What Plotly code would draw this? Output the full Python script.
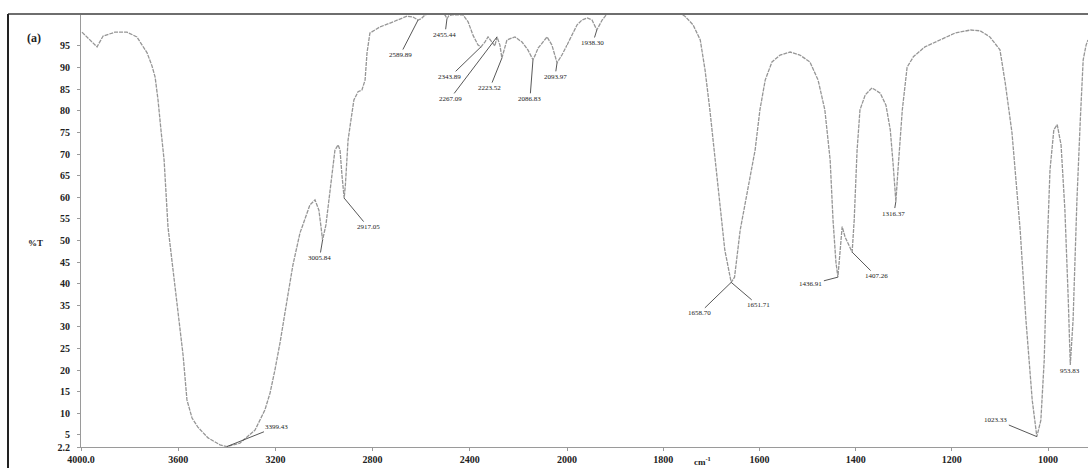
import plotly.graph_objects as go

# FTIR transmittance spectrum, two wavenumber scales (4000-2000 and 2000-917 cm-1)
wn_hi = [3996, 3971, 3934, 3909, 3860, 3811, 3770, 3728, 3708, 3695, 3683, 3671, 3658,
         3642, 3621, 3601, 3580, 3564, 3543, 3519, 3477, 3428, 3399.43, 3346, 3284,
         3243, 3222, 3202, 3181, 3152, 3128, 3099, 3078, 3058, 3037, 3021, 3012,
         3005.84, 2992, 2971, 2955, 2942, 2934, 2926, 2917.05, 2912, 2901, 2889, 2877,
         2860, 2844, 2831, 2823, 2811, 2770, 2728, 2700, 2658, 2634, 2613, 2600, 2584,
         2543, 2502, 2494, 2486, 2473, 2428, 2407, 2387, 2366, 2354, 2338, 2325, 2309,
         2297, 2288, 2276, 2268, 2258, 2247, 2214, 2185, 2161, 2140, 2130, 2119, 2082,
         2062, 2041, 2021, 2000]
t_hi = [98.2, 96.9, 94.8, 97.3, 98.2, 98.2, 97.1, 93.4, 90.4, 87.8, 82.5, 75.6, 68.6,
        53.1, 43.2, 33.2, 23.5, 13.1, 8.9, 6.8, 4.3, 2.7, 2.3, 3.1, 6.1,
        10.8, 14.7, 20.0, 26.3, 36.2, 44.3, 51.7, 55.2, 58.2, 59.4, 57.0, 53.0,
        50.1, 53.6, 64.0, 70.9, 72.1, 70.9, 65.1, 59.8, 62.8, 73.2, 77.9, 82.5,
        84.4, 84.8, 87.1, 93.4, 98.0, 99.4, 100.3, 101.0, 101.9, 101.7, 101.0, 101.3, 102.2,
        103.0, 102.2, 101.3, 102.0, 102.2, 102.2, 100.6, 97.5, 95.2, 94.8, 95.9, 97.1, 95.9,
        95.0, 97.1, 95.2, 92.2, 94.5, 96.4, 97.1, 95.9, 94.1, 91.8, 93.0, 94.5, 97.1,
        95.2, 91.1, 92.9, 95.2]

wn_lo = [2000, 1990, 1979, 1969, 1958, 1948, 1938, 1927, 1917, 1890, 1848, 1807, 1775,
         1755, 1738, 1723, 1713, 1703, 1692, 1682, 1672, 1658.7, 1651.71, 1640, 1624,
         1609, 1599, 1588, 1574, 1557, 1536, 1516, 1495, 1478, 1464, 1453, 1447,
         1441, 1436.91, 1433, 1428, 1422, 1414, 1407.26, 1403, 1397, 1391, 1380, 1366,
         1349, 1337, 1328, 1322, 1316.37, 1312, 1303, 1293, 1280, 1256, 1224, 1193,
         1161, 1141, 1121, 1100, 1089, 1075, 1058, 1046, 1033, 1025, 1023.33, 1015,
         1008, 1002, 996, 988, 981, 973, 965, 958, 953.83, 948, 940, 933, 927, 921, 917]
t_lo = [95.2, 97.5, 99.9, 101.0, 101.5, 101.0, 98.7, 101.0, 102.4, 104.0, 104.5, 104.3, 103.3,
        101.9, 99.9, 96.4, 89.4, 80.2, 68.6, 57.0, 47.8, 40.3, 41.5, 52.4, 61.7,
        70.9, 80.2, 87.1, 91.3, 92.9, 93.6, 92.9, 91.3, 87.1, 80.2, 68.6, 54.7,
        45.0, 41.5, 47.0, 53.2, 50.8, 48.9, 47.3, 54.7, 70.9, 80.2, 83.7, 85.3,
        84.1, 81.3, 75.6, 67.5, 59.0, 66.3, 80.2, 90.1, 92.5, 94.8, 96.4, 98.0,
        98.7, 98.5, 97.1, 94.1, 86.4, 74.9, 52.4, 31.6, 13.1, 6.1, 4.6, 8.4,
        22.3, 47.8, 66.3, 75.6, 76.8, 72.1, 57.0, 36.2, 21.2, 31.6, 59.4, 77.9, 91.8, 95.2, 96.4]

peak_labels = ["3399.43", "3005.84", "2917.05", "2589.89", "2455.44", "2343.89", "2267.09",
               "2223.52", "2086.83", "2093.97", "1938.30", "1658.70", "1651.71", "1436.91",
               "1407.26", "1316.37", "1023.33", "953.83"]
peak_wn = [3399.43, 3005.84, 2917.05, 2613, 2494, 2354, 2288, 2268, 2140, 2041, 1938,
           1658.7, 1658.7, 1436.91, 1407.26, 1316.37, 1023.33, 953.83]
peak_t = [2.3, 50.1, 59.8, 101.0, 101.3, 94.8, 97.1, 92.2, 91.8, 91.1, 98.7,
          40.3, 40.3, 41.5, 47.3, 59.0, 4.6, 21.2]

x_ticks_hi = [4000, 3600, 3200, 2800, 2400]
x_text_hi = ["4000.0", "3600", "3200", "2800", "2400"]
x_ticks_lo = [2000, 1800, 1600, 1400, 1200, 1000]
x_text_lo = ["2000", "1800", "1600", "1400", "1200", "1000"]
y_ticks = [2.2, 5, 10, 15, 20, 25, 30, 35, 40, 45, 50, 55, 60, 65, 70, 75, 80, 85, 90, 95]
y_text = ["2.2"] + [str(v) for v in y_ticks[1:]]

# label offsets (pixels from the peak point)
label_offsets = [(50, -20), (-3, 18), (24, 29), (-18, 35), (-2, 16), (-31, 30), (-47, 62),
                 (-12, 30), (-3, 39), (-2, 14), (-4, 13), (-32, 31), (27, 23), (-27, 7),
                 (24, 24), (-2, 12), (-41, -17), (0, 6)]

W, H = 1088, 468
ML, MR, MT, MB = 81, 0, 14, 21
split = (567 - ML) / (W - ML - MR)
Y_RANGE = [2.2, 102.4]

line_style = dict(color="#969696", width=1.3, dash="4px,1px")
fig = go.Figure()
fig.add_trace(go.Scatter(x=wn_hi, y=t_hi, mode="lines", line=line_style,
                         xaxis="x", yaxis="y", hoverinfo="skip"))
fig.add_trace(go.Scatter(x=wn_lo, y=t_lo, mode="lines", line=line_style,
                         xaxis="x2", yaxis="y", hoverinfo="skip"))

tick_font = dict(family="Liberation Serif", size=10, color="#222", weight="bold")
axis_common = dict(showline=True, linecolor="#9a9a9a", linewidth=1, ticks="outside",
                   ticklen=3, tickcolor="#9a9a9a", showgrid=False, zeroline=False,
                   tickfont=tick_font)

fig.update_layout(
    width=W, height=H, margin=dict(l=ML, r=MR, t=MT, b=MB),
    paper_bgcolor="white", plot_bgcolor="white", showlegend=False,
    xaxis=dict(domain=[0, split], range=[4000, 2000], tickvals=x_ticks_hi,
               ticktext=x_text_hi, anchor="y", ticklabelstandoff=0, **axis_common),
    xaxis2=dict(domain=[split, 1], range=[2000, 917], tickvals=x_ticks_lo,
                ticktext=x_text_lo, anchor="y", ticklabelstandoff=0, **axis_common),
    yaxis=dict(range=Y_RANGE, tickvals=y_ticks, ticktext=y_text,
               ticklabelstandoff=5, **axis_common),
)

# peak annotations with leader lines
for lab, xw, yt, (dx, dy) in zip(peak_labels, peak_wn, peak_t, label_offsets):
    xref = "x" if xw >= 2000 else "x2"
    fig.add_annotation(x=xw, y=yt, xref=xref, yref="y", text=lab, showarrow=True,
                       arrowhead=0, arrowwidth=0.9, arrowcolor="#444", ax=dx, ay=dy,
                       standoff=0, startstandoff=0,
                       font=dict(family="Liberation Serif", size=7, color="#222"))

pw = W - ML - MR
ph = H - MT - MB
def px_x(p):
    return (p - ML) / pw
def px_y(p):
    return (H - MB - p) / ph

# frame lines
fig.add_shape(type="line", xref="paper", yref="paper", x0=px_x(8), x1=1,
              y0=px_y(14), y1=px_y(14), line=dict(color="#6e6e6e", width=2))
fig.add_shape(type="line", xref="paper", yref="paper", x0=px_x(8), x1=px_x(8),
              y0=px_y(14), y1=px_y(470), line=dict(color="#222", width=2))

fig.add_annotation(xref="paper", yref="paper", x=px_x(25), y=px_y(29), text="(a)",
                   showarrow=False, font=dict(family="Liberation Serif", size=12,
                                              color="#222", weight="bold"))
fig.add_annotation(xref="paper", yref="paper", x=px_x(26), y=px_y(243), text="%T",
                   showarrow=False, font=dict(family="Liberation Serif", size=9,
                                              color="#222", weight="bold"))
fig.add_annotation(xref="paper", yref="paper", x=px_x(702), y=px_y(461),
                   yanchor="middle", text="cm<sup>-1</sup>", showarrow=False,
                   font=dict(family="Liberation Serif", size=9, color="#222",
                             weight="bold"))

fig.write_html("out.html")
